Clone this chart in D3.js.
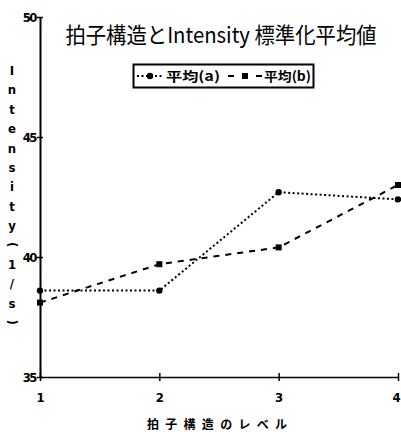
<!DOCTYPE html>
<html><head><meta charset="utf-8">
<script src="https://cdn.jsdelivr.net/npm/d3@7"></script>
<style>
html,body{margin:0;padding:0;background:#fff;}
svg{display:block;}
</style></head>
<body>
<svg id="chart" width="401" height="432"></svg>
<script>
const levels = [1, 2, 3, 4];
const seriesA = [38.6, 38.6, 42.7, 42.4];
const seriesB = [38.1, 39.7, 40.4, 43.0];
const yTicks = [35, 40, 45, 50];
const xTicks = [1, 2, 3, 4];
const titleText = "拍子構造とIntensity 標準化平均値";
const xLabel = "拍子構造のレベル";
const yLabelChars = ["I","n","t","e","n","s","i","t","y","(","1","/","s",")"];
const legendA = "平均(a)";
const legendB = "平均(b)";

const svg = d3.select("#chart");
const x = d3.scaleLinear().domain([1, 4]).range([40, 398]);
const y = d3.scaleLinear().domain([35, 50]).range([377, 17]);
const numFont = "'DejaVu Sans Condensed','Liberation Sans Narrow','DejaVu Sans',sans-serif";
const cjk = "'Noto Sans CJK JP',sans-serif";

// axes
const yAxis = d3.axisLeft(y).tickValues(yTicks).tickSize(0).tickPadding(4).tickFormat(d3.format("d"));
const gy = svg.append("g").attr("transform", `translate(${x(1)},0)`).call(yAxis);
gy.select(".domain").attr("stroke", "#000").attr("stroke-width", 2);
gy.selectAll(".tick text").attr("font-family", numFont).attr("font-weight", "bold")
  .attr("font-size", 13).attr("fill", "#000").attr("letter-spacing", -1.5);
gy.selectAll(".tick").append("line").attr("x1", -3).attr("x2", 3).attr("stroke", "#000").attr("stroke-width", 1.5);

const xAxis = d3.axisBottom(x).tickValues(xTicks).tickSize(0).tickPadding(16).tickFormat(d3.format("d"));
const gx = svg.append("g").attr("transform", `translate(0,${y(35)})`).call(xAxis);
gx.select(".domain").attr("stroke", "#000").attr("stroke-width", 1.5);
gx.selectAll(".tick text").attr("font-family", numFont).attr("font-weight", "bold")
  .attr("font-size", 13).attr("fill", "#000")
  .attr("dx", d => d === 4 ? -2 : 0);
gx.selectAll(".tick").append("line").attr("y1", -4).attr("y2", 4).attr("stroke", "#000").attr("stroke-width", 1.5);

// lines
const line = d3.line().x((d, i) => x(levels[i])).y(d => y(d));
svg.append("path").datum(seriesA).attr("d", line).attr("fill", "none")
  .attr("stroke", "#000").attr("stroke-width", 2).attr("stroke-dasharray", "2,2.5");
svg.append("path").datum(seriesB).attr("d", line).attr("fill", "none")
  .attr("stroke", "#000").attr("stroke-width", 2).attr("stroke-dasharray", "6,6");
svg.selectAll(".ptA").data(seriesA).join("circle")
  .attr("cx", (d, i) => x(levels[i])).attr("cy", d => y(d)).attr("r", 3.2).attr("fill", "#000");
svg.selectAll(".ptB").data(seriesB).join("rect")
  .attr("x", (d, i) => x(levels[i]) - 3).attr("y", d => y(d) - 3)
  .attr("width", 6).attr("height", 6).attr("fill", "#000");

// title (horizontally condensed like the original)
svg.append("text").attr("transform", "translate(221,43) scale(0.925,1)")
  .attr("text-anchor", "middle").attr("font-family", cjk)
  .attr("font-size", 22).attr("fill", "#000").text(titleText);

// legend
const lg = svg.append("g");
lg.append("rect").attr("x", 133.5).attr("y", 64.5).attr("width", 180).attr("height", 23)
  .attr("fill", "#fff").attr("stroke", "#000").attr("stroke-width", 2);
lg.append("line").attr("x1", 137).attr("x2", 164).attr("y1", 76).attr("y2", 76)
  .attr("stroke", "#000").attr("stroke-width", 2).attr("stroke-dasharray", "2,2.5");
lg.append("circle").attr("cx", 150).attr("cy", 76).attr("r", 3.2).attr("fill", "#000");
lg.append("text").attr("x", 166).attr("y", 81).attr("font-family", cjk).attr("font-weight", "bold")
  .attr("font-size", 13).attr("textLength", 54).attr("lengthAdjust", "spacingAndGlyphs").text(legendA);
lg.append("line").attr("x1", 228).attr("x2", 262).attr("y1", 76).attr("y2", 76)
  .attr("stroke", "#000").attr("stroke-width", 2).attr("stroke-dasharray", "6,8");
lg.append("rect").attr("x", 242).attr("y", 73).attr("width", 6).attr("height", 6).attr("fill", "#000");
lg.append("text").attr("x", 264).attr("y", 81).attr("font-family", cjk).attr("font-weight", "bold")
  .attr("font-size", 13).attr("textLength", 47).attr("lengthAdjust", "spacingAndGlyphs").text(legendB);

// y label (stacked characters; parentheses turned to vertical form)
svg.append("g").selectAll("text").data(yLabelChars).join("text")
  .attr("transform", (d, i) => {
    const cy = 70 + i * 19.4;
    return (d === "(" || d === ")") ? `translate(12,${cy}) rotate(90)` : `translate(12,${cy + 5})`;
  })
  .attr("text-anchor", "middle").attr("dominant-baseline", d => (d === "(" || d === ")") ? "central" : null)
  .attr("font-family", numFont).attr("font-weight", "bold")
  .attr("font-size", 13).attr("fill", "#000").text(d => d);

// x label
svg.append("text").attr("x", 147).attr("y", 429).attr("font-family", cjk).attr("font-weight", "bold")
  .attr("font-size", 12).attr("textLength", 140).attr("lengthAdjust", "spacing").text(xLabel);
</script>
</body></html>
